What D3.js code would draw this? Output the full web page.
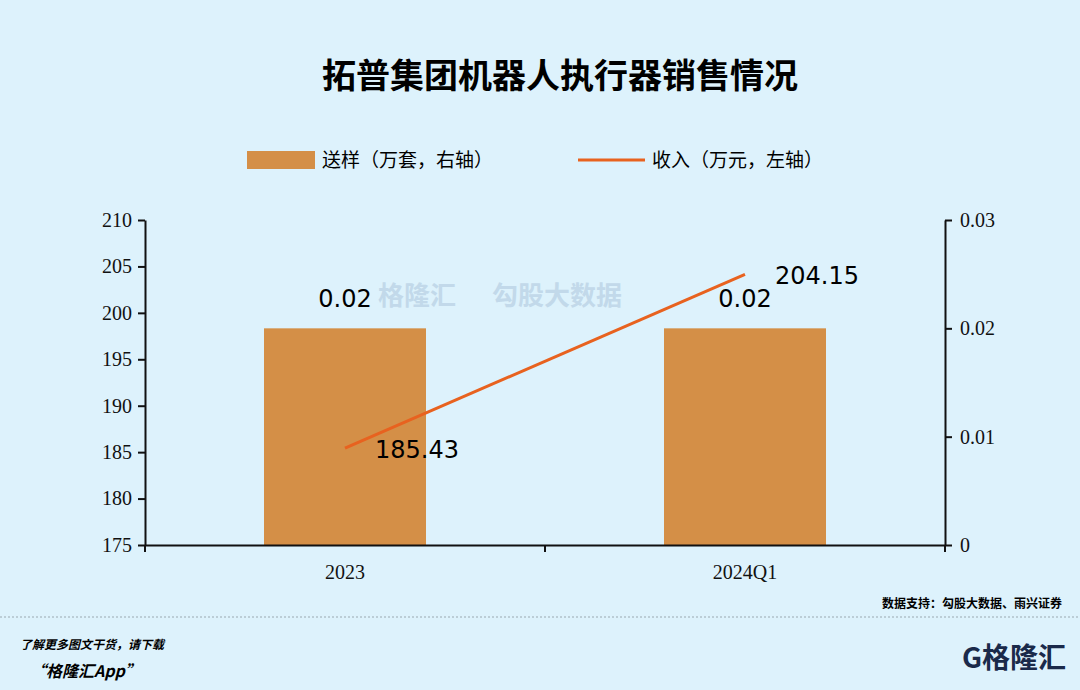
<!DOCTYPE html>
<html><head><meta charset="utf-8">
<script src="https://cdn.jsdelivr.net/npm/d3@7"></script>
<style>body{margin:0;background:#ddf2fc;}svg{display:block;}</style>
</head><body><svg id="c" width="1080" height="690"></svg>
<script>
// chart data
var categories = ["2023", "2024Q1"];
var samples = [0.02, 0.02];          // 送样（万套，右轴）
var revenue = [185.43, 204.15];      // 收入（万元，左轴）
var leftTicks = [175, 180, 185, 190, 195, 200, 205, 210];
var rightTicks = [0, 0.01, 0.02, 0.03];

(function () {
var svg = d3.select("#c"),
  left = 145, right = 945, plotTop = 220, bottom = 545,
  barColor = "#d48f47", lineColor = "#e8621f",
  serif = "'Liberation Serif','Times New Roman',serif",
  sans = "'Noto Sans CJK SC','Noto Sans',sans-serif";

svg.append("rect").attr("width", 1080).attr("height", 690).attr("fill", "#ddf2fc");

svg.append("text").attr("x", 560).attr("y", 88).attr("text-anchor", "middle")
  .attr("font-family", sans).attr("font-weight", "bold").attr("font-size", 34)
  .text("拓普集团机器人执行器销售情况");

// legend
svg.append("rect").attr("x", 247).attr("y", 151).attr("width", 68).attr("height", 18).attr("fill", barColor);
svg.append("text").attr("x", 322).attr("y", 167).attr("font-family", sans).attr("font-size", 19)
  .text("送样（万套，右轴）");
svg.append("line").attr("x1", 578).attr("x2", 645).attr("y1", 160).attr("y2", 160)
  .attr("stroke", lineColor).attr("stroke-width", 3);
svg.append("text").attr("x", 652).attr("y", 167).attr("font-family", sans).attr("font-size", 19)
  .text("收入（万元，左轴）");

// watermark
svg.append("text").attr("x", 378).attr("y", 305).attr("font-family", sans).attr("font-weight", "bold")
  .attr("font-size", 26).attr("fill", "#c2d9ea").text("格隆汇");
svg.append("text").attr("x", 492).attr("y", 305).attr("font-family", sans).attr("font-weight", "bold")
  .attr("font-size", 26).attr("fill", "#c2d9ea").text("勾股大数据");

var x = d3.scaleBand().domain(categories).range([left, right]).paddingInner(0).paddingOuter(0);
var yL = d3.scaleLinear().domain([175, 210]).range([bottom, plotTop]);
var yR = d3.scaleLinear().domain([0, 0.03]).range([bottom, plotTop]);
var barW = 162;

svg.selectAll(".bar").data(samples).enter().append("rect")
  .attr("x", function (d, i) { return x(categories[i]) + x.bandwidth() / 2 - barW / 2; })
  .attr("y", function (d) { return yR(d); })
  .attr("width", barW)
  .attr("height", function (d) { return bottom - yR(d); })
  .attr("fill", barColor);

var line = d3.line()
  .x(function (d, i) { return x(categories[i]) + x.bandwidth() / 2; })
  .y(function (d) { return yL(d); });
svg.append("path").datum(revenue).attr("d", line).attr("fill", "none")
  .attr("stroke", lineColor).attr("stroke-width", 3);

svg.selectAll(".bl").data(samples).enter().append("text")
  .attr("x", function (d, i) { return x(categories[i]) + x.bandwidth() / 2; })
  .attr("y", function (d) { return yR(d) - 21; })
  .attr("text-anchor", "middle").attr("font-family", "'DejaVu Sans',sans-serif").attr("font-size", 24)
  .text(function (d) { return d.toFixed(2); });
svg.selectAll(".ll").data(revenue).enter().append("text")
  .attr("x", function (d, i) { return x(categories[i]) + x.bandwidth() / 2 + 72; })
  .attr("y", function (d) { return yL(d) + 10; })
  .attr("text-anchor", "middle").attr("font-family", "'DejaVu Sans',sans-serif").attr("font-size", 24)
  .text(function (d) { return d.toFixed(2); });

function styleAxis(g) {
  g.selectAll("path,line").attr("stroke", "#111").attr("stroke-width", 2);
  g.selectAll("text").attr("font-family", serif).attr("font-size", 20).attr("fill", "#111");
}
svg.append("g").attr("transform", "translate(" + left + ",0)")
  .call(d3.axisLeft(yL).tickValues(leftTicks).tickSize(7).tickSizeOuter(0).tickPadding(6))
  .call(styleAxis);
svg.append("g").attr("transform", "translate(" + right + ",0)")
  .call(d3.axisRight(yR).tickValues(rightTicks).tickSize(7).tickSizeOuter(0).tickPadding(8)
    .tickFormat(function (d) { return d === 0 ? "0" : d.toFixed(2); }))
  .call(styleAxis);
var xg = svg.append("g").attr("transform", "translate(0," + bottom + ")")
  .call(d3.axisBottom(x).tickSize(0).tickPadding(20))
  .call(styleAxis);
xg.selectAll(".sep").data([left, left + x.bandwidth(), right]).enter().append("line")
  .attr("x1", function (d) { return d; }).attr("x2", function (d) { return d; })
  .attr("y1", 0).attr("y2", 7).attr("stroke", "#111").attr("stroke-width", 2);
xg.selectAll("text").attr("dy", "0.71em");

// footer
svg.append("text").attr("x", 1062).attr("y", 608).attr("text-anchor", "end")
  .attr("font-family", sans).attr("font-weight", "bold").attr("font-size", 12).text("数据支持：勾股大数据、雨兴证券");
svg.append("line").attr("x1", 0).attr("x2", 1080).attr("y1", 617).attr("y2", 617)
  .attr("stroke", "#9aa8b0").attr("stroke-dasharray", "2,2");
svg.append("text").attr("x", 20).attr("y", 649).attr("font-family", sans).attr("font-style", "italic")
  .attr("font-weight", "bold").attr("font-size", 12).text("了解更多图文干货，请下载");
svg.append("text").attr("x", 30).attr("y", 677).attr("font-family", sans).attr("font-style", "italic")
  .attr("font-weight", "bold").attr("font-size", 16).text("“格隆汇App”");
svg.append("text").attr("x", 962).attr("y", 668).attr("font-family", sans).attr("font-weight", "bold")
  .attr("font-size", 28).attr("fill", "#1a2a4a").text("G格隆汇");
})();
</script></body></html>
